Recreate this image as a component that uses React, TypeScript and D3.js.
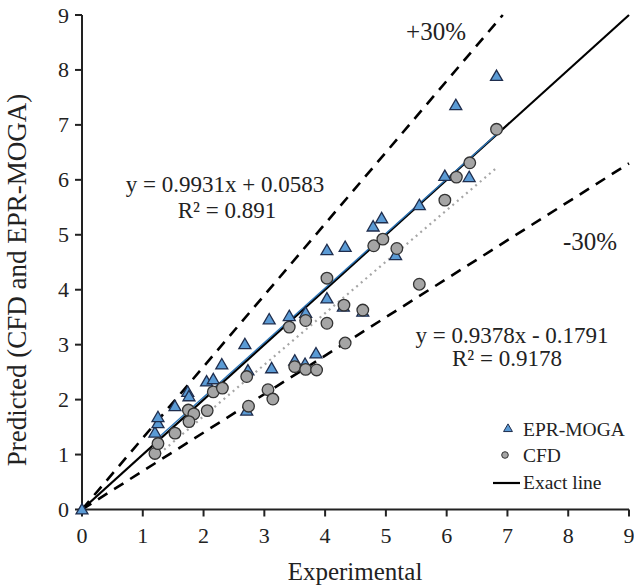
import React from "react";
import * as d3 from "d3";

const ticks = [0, 1, 2, 3, 4, 5, 6, 7, 8, 9];

const eprX = [0, 1.2, 1.25, 1.25, 1.53, 1.74, 1.76, 2.05, 2.16, 2.3, 2.68, 2.73, 2.71, 3.12, 3.08, 3.41, 3.68, 3.5, 3.67, 3.85, 4.03, 4.3, 4.62, 4.03, 4.33, 4.79, 4.93, 5.16, 5.55, 5.97, 6.37, 6.15, 6.82];
const eprY = [0, 1.4, 1.57, 1.68, 1.88, 2.14, 2.06, 2.33, 2.37, 2.64, 3.01, 2.53, 1.8, 2.57, 3.46, 3.52, 3.58, 2.71, 2.65, 2.84, 3.84, 3.69, 3.6, 4.72, 4.78, 5.15, 5.3, 4.63, 5.54, 6.07, 6.05, 7.36, 7.89];

const cfdX = [1.2, 1.25, 1.53, 1.75, 1.84, 1.76, 2.06, 2.16, 2.31, 2.71, 2.74, 3.06, 3.14, 3.41, 3.68, 3.5, 3.68, 3.86, 4.03, 4.03, 4.31, 4.33, 4.62, 4.8, 4.95, 5.18, 5.55, 5.97, 6.16, 6.38, 6.82];
const cfdY = [1.02, 1.2, 1.39, 1.81, 1.74, 1.6, 1.8, 2.14, 2.21, 2.42, 1.88, 2.18, 2.01, 3.32, 3.44, 2.6, 2.55, 2.54, 3.39, 4.21, 3.72, 3.03, 3.63, 4.8, 4.92, 4.75, 4.1, 5.63, 6.05, 6.31, 6.92];

const eprFit = { slope: 0.9931, intercept: 0.0583, from: 1.2, to: 6.82 };
const cfdFit = { slope: 0.9378, intercept: -0.1791, from: 1.2, to: 6.82 };

const FONT = "'Liberation Serif', 'Times New Roman', serif";

export default function App() {
  const x = d3.scaleLinear().domain([0, 9]).range([82, 629]);
  const y = d3.scaleLinear().domain([0, 9]).range([509.5, 15]);
  const line = d3.line<[number, number]>().x((d) => x(d[0])).y((d) => y(d[1]));
  const tri = d3.symbol().type(d3.symbolTriangle).size(62)() as string;
  const triSmall = d3.symbol().type(d3.symbolTriangle).size(34)() as string;

  const plus30: [number, number][] = [[0, 0], [9 / 1.3, 9]];
  const minus30: [number, number][] = [[0, 0], [9, 9 * 0.7]];
  const exact: [number, number][] = [[0, 0], [9, 9]];
  const fitPts = (f: typeof eprFit): [number, number][] => [
    [f.from, f.slope * f.from + f.intercept],
    [f.to, f.slope * f.to + f.intercept],
  ];

  return (
    <div style={{ position: "absolute", left: 0, top: 0 }}>
      <svg width={634} height={585} style={{ display: "block", background: "#fff" }} fontFamily={FONT}>
        {/* reference lines */}
        <path d={line(plus30)!} stroke="#000" strokeWidth={2.6} strokeDasharray="11,8" fill="none" />
        <path d={line(minus30)!} stroke="#000" strokeWidth={2.6} strokeDasharray="11,8" fill="none" />
        <path d={line(exact)!} stroke="#000" strokeWidth={2.2} fill="none" />
        <path d={line(fitPts(cfdFit))!} stroke="#a6a6a6" strokeWidth={2.2} strokeDasharray="2,4" fill="none" />
        <path d={line(fitPts(eprFit))!} stroke="#2e75b6" strokeWidth={1.4} fill="none" />

        {/* axes */}
        <line x1={x(0)} x2={x(9)} y1={y(0)} y2={y(0)} stroke="#222" strokeWidth={2} />
        <line x1={x(0)} x2={x(0)} y1={y(0)} y2={y(9)} stroke="#222" strokeWidth={2} />
        {ticks.map((t) => (
          <g key={"xt" + t}>
            <line x1={x(t)} x2={x(t)} y1={y(0)} y2={y(0) + 7} stroke="#222" strokeWidth={2} />
            <text x={x(t)} y={y(0) + 33} textAnchor="middle" fontSize={22} fill="#222">{t}</text>
          </g>
        ))}
        {ticks.map((t) => (
          <g key={"yt" + t}>
            <line x1={x(0) - 7} x2={x(0)} y1={y(t)} y2={y(t)} stroke="#222" strokeWidth={2} />
            <text x={x(0) - 13} y={y(t) + 7.5} textAnchor="end" fontSize={22} fill="#222">{t}</text>
          </g>
        ))}

        {/* points */}
        {eprX.map((v, i) => (
          <path key={"e" + i} d={tri} transform={`translate(${x(v)},${y(eprY[i]) + 1})`} fill="#5b9bd5" stroke="#1f2d4d" strokeWidth={1.3} />
        ))}
        {cfdX.map((v, i) => (
          <circle key={"c" + i} cx={x(v)} cy={y(cfdY[i])} r={5.8} fill="#a5a5a5" stroke="#333" strokeWidth={1.3} />
        ))}

        {/* annotations */}
        <text x={225} y={192} textAnchor="middle" fontSize={23} fill="#222">y = 0.9931x + 0.0583</text>
        <text x={227} y={218} textAnchor="middle" fontSize={23} fill="#222">R² = 0.891</text>
        <text x={512} y={343} textAnchor="middle" fontSize={23} fill="#222">y = 0.9378x - 0.1791</text>
        <text x={507} y={366} textAnchor="middle" fontSize={23} fill="#222">R² = 0.9178</text>
        <text x={436} y={40} textAnchor="middle" fontSize={25} fill="#222">+30%</text>
        <text x={590} y={250} textAnchor="middle" fontSize={25} fill="#222">-30%</text>

        {/* legend */}
        <path d={triSmall} transform={`translate(508,429)`} fill="#5b9bd5" stroke="#1f2d4d" strokeWidth={1} />
        <text x={523} y={436} fontSize={19.5} fill="#222">EPR-MOGA</text>
        <circle cx={505} cy={455} r={3.3} fill="#a5a5a5" stroke="#333" strokeWidth={1} />
        <text x={523} y={462} fontSize={19.5} fill="#222">CFD</text>
        <line x1={493} x2={520} y1={483} y2={483} stroke="#000" strokeWidth={2.2} />
        <text x={523} y={489} fontSize={19.5} fill="#222">Exact line</text>

        {/* axis titles */}
        <text x={355} y={580} textAnchor="middle" fontSize={25} fill="#222">Experimental</text>
        <text transform={`translate(26,280) rotate(-90)`} textAnchor="middle" fontSize={27} fill="#222">Predicted (CFD and EPR-MOGA)</text>
      </svg>
    </div>
  );
}
